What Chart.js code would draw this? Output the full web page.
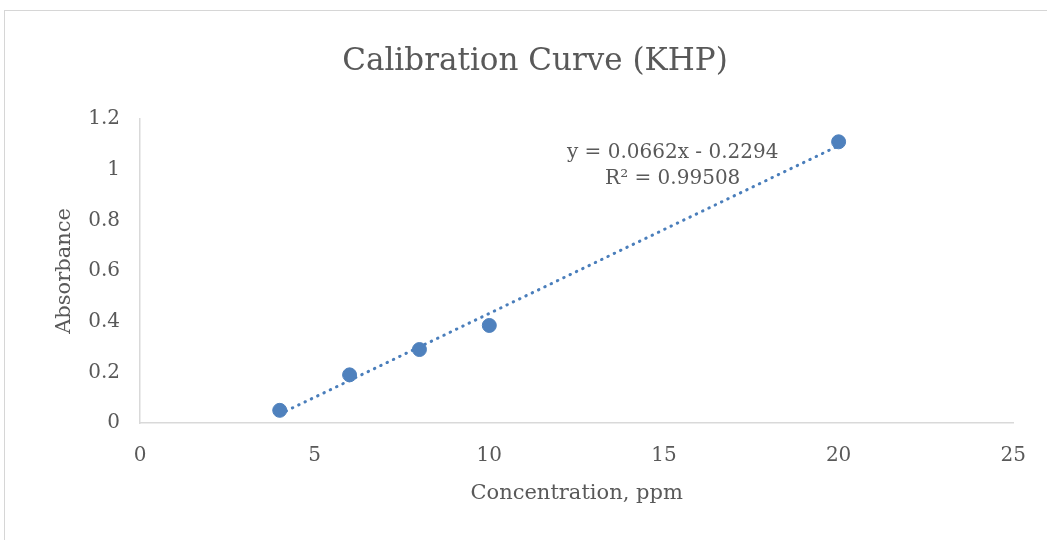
<!DOCTYPE html>
<html><head><meta charset="utf-8">
<script src="https://cdn.jsdelivr.net/npm/chart.js@4.4.1/dist/chart.umd.min.js"></script>
<style>
html,body{margin:0;padding:0;background:#fff;overflow:hidden}
#wrap{position:relative;width:1047px;height:540px}
#frame{position:absolute;left:4px;top:10px;width:1100px;height:600px;border-top:1px solid #d6d6d6;border-left:1px solid #d6d6d6;pointer-events:none}
canvas{position:absolute;left:0;top:0}
</style></head><body>
<div id="wrap"><canvas id="c" width="1047" height="540"></canvas><div id="frame"></div></div>
<script>
const concentration = [4, 6, 8, 10, 20];
const absorbance = [0.05, 0.19, 0.29, 0.385, 1.11];
const trendX = [4, 20];
const trendY = [0.0354, 1.0946];
const xTicks = [0, 5, 10, 15, 20, 25];
const yTicks = [0, 0.2, 0.4, 0.6, 0.8, 1, 1.2];
const titleText = 'Calibration Curve (KHP)';
const xTitle = 'Concentration, ppm';
const yTitle = 'Absorbance';
const equationLines = ['y = 0.0662x - 0.2294', 'R\u00B2 = 0.99508'];

const FONT = '"DejaVu Serif", serif';
const TEXT = '#595959';
const BLUE = '#4f81bd';

const textPlugin = {
  id: 'texts',
  afterDatasetsDraw(chart) {
    const {ctx, scales} = chart;
    ctx.save();
    ctx.fillStyle = TEXT;
    ctx.textAlign = 'center';
    ctx.textBaseline = 'middle';
    // chart title
    ctx.font = '31px ' + FONT;
    ctx.fillText(titleText, 535, 62);
    // trendline equation
    const cx = scales.x.getPixelForValue(15.25);
    const cy = scales.y.getPixelForValue(1.066);
    ctx.font = '20px ' + FONT;
    equationLines.forEach((t, i) => ctx.fillText(t, cx, cy + i * 26));
    ctx.restore();
  }
};

new Chart(document.getElementById('c'), {
  type: 'scatter',
  data: {
    datasets: [
      {
        label: 'Absorbance',
        data: concentration.map((x, i) => ({x, y: absorbance[i]})),
        backgroundColor: BLUE,
        borderColor: BLUE,
        pointRadius: 7,
        pointHoverRadius: 7,
        order: 1
      },
      {
        label: 'Linear (Absorbance)',
        data: trendX.map((x, i) => ({x, y: trendY[i]})),
        showLine: true,
        borderColor: '#4a7ebb',
        borderWidth: 3,
        borderDash: [0.5, 6.5],
        borderCapStyle: 'round',
        pointRadius: 0,
        fill: false,
        order: 2
      }
    ]
  },
  options: {
    responsive: false,
    animation: false,
    devicePixelRatio: 1,
    layout: {padding: {left: 0, right: 33, top: 119, bottom: 0}},
    plugins: {
      legend: {display: false},
      tooltip: {enabled: false},
      title: {display: false}
    },
    scales: {
      x: {
        type: 'linear',
        position: 'bottom',
        min: 0, max: 25,
        grid: {display: false, drawTicks: false},
        border: {display: true, color: '#d9d9d9', width: 1.5},
        ticks: {color: TEXT, font: {family: FONT, size: 20}, padding: 21,
                callback: v => String(v)},
        afterBuildTicks: s => { s.ticks = xTicks.map(v => ({value: v})); },
        afterFit: s => { s.height = 117; },
        title: {display: true, text: xTitle, color: TEXT, font: {family: FONT, size: 21}, padding: {top: 0, bottom: 34}}
      },
      y: {
        type: 'linear',
        min: 0, max: 1.2,
        grid: {display: false, drawTicks: false},
        border: {display: true, color: '#d9d9d9', width: 1.5},
        ticks: {color: TEXT, font: {family: FONT, size: 20}, padding: 20,
                callback: v => String(v)},
        afterBuildTicks: s => { s.ticks = yTicks.map(v => ({value: v})); },
        afterFit: s => { s.width = 140; },
        title: {display: true, text: yTitle, color: TEXT, font: {family: FONT, size: 21}, padding: {top: 52, bottom: 0}}
      }
    }
  },
  plugins: [textPlugin]
});
</script>
</body></html>
